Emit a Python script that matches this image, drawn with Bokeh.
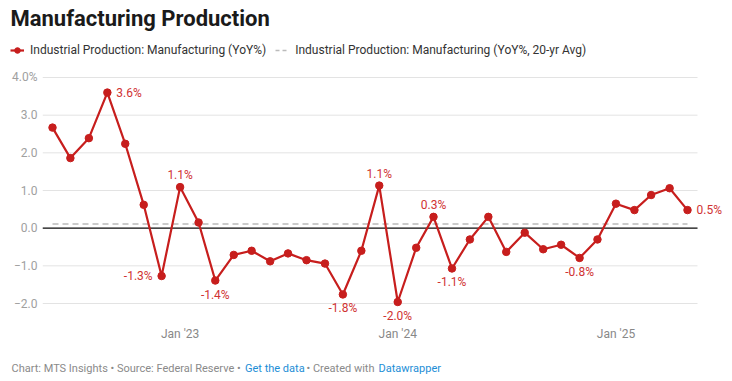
import pandas as pd
from bokeh.plotting import figure
from bokeh.layouts import column, row
from bokeh.models import (ColumnDataSource, FixedTicker, DatetimeTickFormatter,
                          LabelSet, Label, Legend, LegendItem, Range1d)
from bokeh.core.properties import value
from bokeh.embed import file_html
from bokeh.resources import INLINE

# ---- data ----
months = pd.date_range("2022-06-01", "2025-05-01", freq="MS")
yoy = [2.67, 1.86, 2.39, 3.60, 2.24, 0.62, -1.27,
       1.09, 0.15, -1.39, -0.71, -0.60, -0.88, -0.67, -0.85, -0.94, -1.76, -0.60, 1.13,
       -1.96, -0.52, 0.30, -1.07, -0.30, 0.30, -0.63, -0.12, -0.56, -0.44, -0.79, -0.30,
       0.65, 0.48, 0.88, 1.06, 0.48]
avg_20yr = [0.11] * len(yoy)
y_ticks = [-2, -1, 0, 1, 2, 3, 4]
y_tick_labels = {-2: "\u22122.0", -1: "\u22121.0", 0: "0.0", 1: "1.0", 2: "2.0", 3: "3.0", 4: "4.0%"}
x_tick_dates = ["2023-01-01", "2024-01-01", "2025-01-01"]
labeled_idx = [3, 6, 7, 9, 16, 18, 19, 21, 22, 29, 35]
label_pos = ["right", "left", "above", "below", "below", "above", "below", "above", "below", "below", "right"]
title_text = "Manufacturing Production"
series_names = ["Industrial Production: Manufacturing (YoY%)",
                "Industrial Production: Manufacturing (YoY%, 20-yr Avg)"]
footer_parts = ["Chart: MTS Insights \u2022 Source: Federal Reserve \u2022", "Get the data",
                "\u2022 Created with", "Datawrapper"]

RED = "#c71e1d"
LABEL_RED = "#d03232"
AVG_GREY = "#bbbbbb"
W = 732
HEAD_H, FOOT_H = 62, 25
MAIN_H = 381 - HEAD_H - FOOT_H


def bare(h):
    f = figure(width=W, height=h, x_range=Range1d(0, W), y_range=Range1d(h, 0),
               x_axis_type=None, y_axis_type=None,
               output_backend="svg", toolbar_location=None,
               min_border=0, min_border_left=0, min_border_right=0,
               min_border_top=0, min_border_bottom=0)
    f.grid.visible = False
    f.outline_line_color = None
    return f


# ---- header: title + legend ----
head = bare(HEAD_H)
head.add_layout(Label(x=10, y=18, text=title_text, text_font="Roboto", text_font_style="bold",
                      text_font_size="22px", text_color="#1a1a1a", text_baseline="middle"))
# legend-only renderers (placed outside the visible range)
hl = head.line([-50, -40], [5, 5], line_color=RED, line_width=2.2)
hd = head.scatter([-50], [5], size=7.5, fill_color=RED, line_color=RED)
ha = head.line([-50, -40], [5, 5], line_color=AVG_GREY, line_width=1.6, line_dash="4 3")
legend = Legend(items=[LegendItem(label=series_names[0], renderers=[hl, hd], index=0),
                       LegendItem(label=series_names[1], renderers=[ha], index=0)],
                location=(10, 5), orientation="horizontal", glyph_width=14, glyph_height=14,
                label_standoff=6, spacing=9, padding=0, margin=0, label_height=14,
                label_text_font="Roboto", label_text_font_size="12px", label_text_color="#333333",
                border_line_alpha=0, background_fill_alpha=0)
head.add_layout(legend, "center")

# ---- main chart ----
PX_PER_DAY = 635 / 1065
left_pad = pd.Timedelta(days=10 / PX_PER_DAY)
right_pad = pd.Timedelta(days=45 / PX_PER_DAY)
grid_x0 = months[0] - left_pad
grid_x1 = months[-1] + left_pad

src = ColumnDataSource(dict(x=months, y=yoy, avg=avg_20yr))
p = figure(width=W, height=MAIN_H, x_axis_type="datetime",
           x_range=Range1d(months[0] - left_pad, months[-1] + right_pad),
           y_range=Range1d(-2.0 - 19 / 37.667, 4.0 + 11 / 37.667),
           output_backend="svg", toolbar_location=None,
           min_border_left=42, min_border_right=0, min_border_top=4, min_border_bottom=34)
p.outline_line_color = None

for ax in (p.xaxis, p.yaxis):
    ax.axis_line_color = None
    ax.major_tick_line_color = None
    ax.minor_tick_line_color = None
    ax.major_tick_out = 0
    ax.major_tick_in = 0
    ax.minor_tick_out = 0
    ax.minor_tick_in = 0
    ax.major_label_text_font = "Roboto"
    ax.major_label_text_font_size = "12px"

p.yaxis.ticker = FixedTicker(ticks=y_ticks)
p.yaxis.major_label_overrides = y_tick_labels
p.yaxis.major_label_standoff = 5
p.yaxis.major_label_text_color = "#a0a0a0"

p.xaxis.ticker = FixedTicker(ticks=[pd.Timestamp(d).value / 1e6 for d in x_tick_dates])
p.xaxis.formatter = DatetimeTickFormatter(months="%b '%y", years="%b '%y", days="%b '%y")
p.xaxis.major_label_standoff = 4
p.xaxis.major_label_text_color = "#888888"
p.grid.visible = False

# horizontal gridlines limited to the chart area
grid_src = ColumnDataSource(dict(x0=[grid_x0] * len(y_ticks), x1=[grid_x1] * len(y_ticks), y=y_ticks))
p.segment(x0="x0", y0="y", x1="x1", y1="y", source=grid_src, line_color="#e3e3e3", line_width=1)
p.segment(x0=[grid_x0], y0=[0], x1=[grid_x1], y1=[0], line_color="#111111", line_width=1.3)

p.line("x", "avg", source=src, line_color=AVG_GREY, line_width=1.6, line_dash="6 4")
p.line("x", "y", source=src, line_color=RED, line_width=2.2)
p.scatter("x", "y", source=src, size=7.5, fill_color=RED, line_color=RED)

off = {"right": (9, 0, "left"), "left": (-9, 0, "right"),
       "above": (0, 12, "center"), "below": (0, -14, "center")}
lab = ColumnDataSource(dict(
    x=[months[i] for i in labeled_idx],
    y=[yoy[i] for i in labeled_idx],
    text=[f"{yoy[i]:.1f}%" for i in labeled_idx],
    xo=[off[k][0] for k in label_pos],
    yo=[off[k][1] for k in label_pos],
    al=[off[k][2] for k in label_pos],
))
p.add_layout(LabelSet(x="x", y="y", text="text", source=lab, x_offset="xo", y_offset="yo",
                      text_align="al", text_baseline="middle", text_font=value("Roboto"),
                      text_font_size=value("12px"), text_color=LABEL_RED))

# ---- footer ----
foot = bare(FOOT_H)
grey, blue = "#8a8a8a", "#1d8ed6"
for fx, ft, fc in zip([11, 244.5, 306, 378], footer_parts, [grey, blue, grey, blue]):
    foot.add_layout(Label(x=fx, y=12, text=ft, text_font="Roboto", text_font_size="11px",
                          text_color=fc, text_baseline="middle"))

layout = column(row(head), p, row(foot), spacing=0)
open("out.html", "w").write(file_html(layout, INLINE))
